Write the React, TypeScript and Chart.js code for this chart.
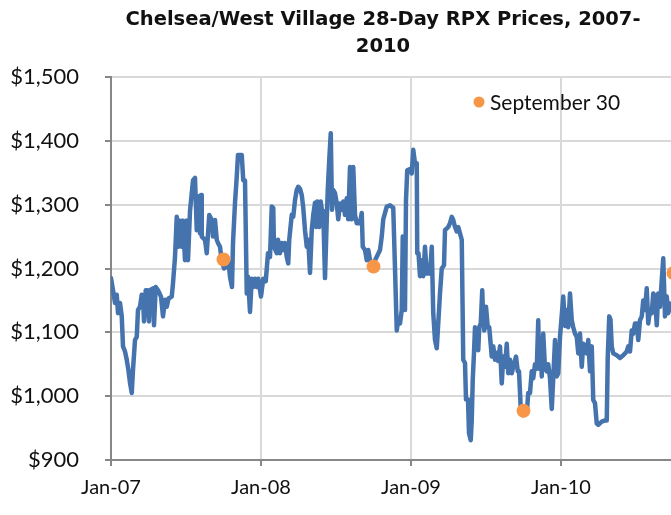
import { useEffect, useRef } from 'react';
import { Chart, registerables } from 'chart.js';

Chart.register(...registerables);

const chartTitle = ['Chelsea/West Village 28-Day RPX Prices, 2007-', '2010'];
const xTickMonths = [0, 12, 24, 36];
const xTickLabels = ['Jan-07', 'Jan-08', 'Jan-09', 'Jan-10'];
const yMin = 900;
const yMax = 1500;
const yStep = 100;
const xMin = 0;
const xMax = 44.8;

// [months since Jan-07, price in $]
const priceSeries: [number, number][] = [
  [0, 1185], [0.16, 1166], [0.32, 1146], [0.46, 1159], [0.56, 1130], [0.72, 1146], [0.86, 1125], [0.96, 1078],
  [1.12, 1070], [1.26, 1057], [1.4, 1040], [1.52, 1021], [1.66, 1005], [1.76, 1041], [1.92, 1088], [2.06, 1093],
  [2.16, 1135], [2.32, 1140], [2.46, 1159], [2.56, 1156], [2.64, 1117], [2.78, 1166], [2.92, 1166], [3.04, 1117],
  [3.12, 1166], [3.36, 1169], [3.44, 1111], [3.58, 1171], [3.76, 1166], [4.0, 1156], [4.16, 1125], [4.32, 1151],
  [4.46, 1140], [4.6, 1153], [4.86, 1156], [4.96, 1177], [5.12, 1218], [5.26, 1281], [5.38, 1234], [5.52, 1275],
  [5.66, 1234], [5.76, 1275], [5.92, 1213], [6.06, 1275], [6.16, 1213], [6.32, 1290], [6.46, 1318], [6.56, 1338],
  [6.72, 1342], [6.86, 1260], [6.96, 1313], [7.12, 1255], [7.2, 1315], [7.26, 1250], [7.52, 1245], [7.66, 1224],
  [7.86, 1284], [8.06, 1276], [8.16, 1250], [8.32, 1276], [8.46, 1245], [8.56, 1240], [8.72, 1234], [8.86, 1213],
  [9.04, 1200], [9.26, 1203], [9.4, 1210], [9.52, 1187], [9.68, 1171], [9.76, 1240], [9.92, 1303], [10.06, 1344],
  [10.16, 1378], [10.46, 1378], [10.58, 1338], [10.72, 1338], [10.86, 1161], [10.96, 1187], [11.12, 1132], [11.26, 1184],
  [11.38, 1171], [11.52, 1184], [11.66, 1171], [11.78, 1184], [12.0, 1156], [12.18, 1184], [12.38, 1180], [12.56, 1224],
  [12.72, 1218], [12.86, 1297], [12.98, 1295], [13.04, 1234], [13.26, 1224], [13.36, 1245], [13.52, 1224], [13.66, 1240],
  [13.78, 1229], [13.92, 1240], [14.06, 1218], [14.18, 1208], [14.26, 1245], [14.46, 1284], [14.58, 1281], [14.72, 1307],
  [14.86, 1323], [14.98, 1328], [15.12, 1325], [15.26, 1315], [15.38, 1295], [15.52, 1260], [15.66, 1234], [15.78, 1245],
  [15.92, 1193], [16.06, 1260], [16.18, 1284], [16.32, 1303], [16.4, 1265], [16.5, 1305], [16.66, 1265], [16.78, 1305],
  [16.9, 1287], [16.98, 1290], [17.12, 1185], [17.26, 1277], [17.34, 1323], [17.46, 1370], [17.58, 1412], [17.68, 1292],
  [17.78, 1323], [17.92, 1318], [18.06, 1302], [18.18, 1277], [18.32, 1302], [18.46, 1292], [18.58, 1305], [18.72, 1284],
  [18.86, 1310], [18.98, 1277], [19.12, 1359], [19.26, 1277], [19.38, 1359], [19.52, 1284], [19.66, 1271], [19.92, 1271],
  [20.06, 1287], [20.14, 1234], [20.32, 1229], [20.46, 1213], [20.58, 1229], [20.72, 1213], [20.94, 1205], [21.12, 1213],
  [21.3, 1220], [21.52, 1229], [21.66, 1250], [21.78, 1277], [22.06, 1297], [22.32, 1299], [22.58, 1295], [22.72, 1200],
  [22.86, 1103], [22.98, 1120], [23.12, 1114], [23.26, 1135], [23.34, 1250], [23.44, 1200], [23.52, 1135], [23.6, 1307],
  [23.7, 1354], [23.92, 1356], [24.06, 1349], [24.18, 1386], [24.32, 1365], [24.46, 1365], [24.5, 1224], [24.6, 1224],
  [24.72, 1188], [24.86, 1213], [24.98, 1188], [25.12, 1234], [25.26, 1192], [25.52, 1192], [25.66, 1234], [25.78, 1130],
  [25.92, 1088], [26.06, 1075], [26.18, 1114], [26.32, 1161], [26.46, 1200], [26.64, 1205], [26.72, 1260], [26.98, 1265],
  [27.12, 1271], [27.26, 1281], [27.38, 1276], [27.52, 1265], [27.66, 1258], [27.78, 1265], [27.92, 1255], [28.06, 1245],
  [28.18, 1057], [28.32, 1052], [28.4, 995], [28.56, 995], [28.64, 942], [28.78, 931], [28.86, 963], [28.94, 1026],
  [29.04, 1068], [29.12, 1108], [29.26, 1098], [29.38, 1072], [29.46, 1108], [29.58, 1114], [29.7, 1166], [29.78, 1119],
  [29.86, 1103], [30.0, 1140], [30.14, 1108], [30.26, 1108], [30.46, 1062], [30.58, 1078], [30.72, 1057], [30.86, 1068],
  [30.98, 1055], [31.12, 1078], [31.26, 1020], [31.38, 1062], [31.52, 1046], [31.66, 1082], [31.78, 1036], [31.92, 1057],
  [32.06, 1036], [32.18, 1046], [32.4, 1062], [32.54, 1039], [32.64, 1039], [32.8, 973], [32.98, 970], [33.26, 973],
  [33.38, 1005], [33.52, 1005], [33.66, 1039], [33.78, 1028], [33.92, 1050], [34.06, 1043], [34.18, 1119], [34.26, 1043],
  [34.38, 1082], [34.46, 1031], [34.58, 1098], [34.72, 1043], [34.86, 1039], [34.98, 1050], [35.12, 1028], [35.26, 980],
  [35.38, 1028], [35.52, 1088], [35.66, 1031], [35.78, 1036], [35.92, 1093], [36.18, 1156], [36.32, 1110], [36.46, 1135],
  [36.58, 1108], [36.72, 1161], [36.86, 1119], [36.98, 1108], [37.12, 1098], [37.26, 1093], [37.38, 1067], [37.52, 1098],
  [37.66, 1046], [37.78, 1082], [37.92, 1078], [38.06, 1067], [38.18, 1088], [38.32, 1039], [38.46, 1078], [38.58, 994],
  [38.72, 989], [38.86, 957], [38.98, 955], [39.26, 960], [39.52, 962], [39.66, 962], [39.74, 1062], [39.86, 1125],
  [39.96, 1120], [40.06, 1078], [40.18, 1067], [40.46, 1064], [40.72, 1060], [40.98, 1064], [41.26, 1070], [41.38, 1078],
  [41.52, 1070], [41.66, 1103], [41.78, 1098], [41.92, 1114], [42.06, 1114], [42.18, 1088], [42.32, 1119], [42.46, 1125],
  [42.58, 1150], [42.72, 1135], [42.86, 1169], [42.98, 1114], [43.12, 1135], [43.26, 1130], [43.38, 1161], [43.52, 1156],
  [43.66, 1111], [43.78, 1161], [43.92, 1140], [44.06, 1182], [44.18, 1216], [44.32, 1125], [44.46, 1156], [44.58, 1130],
  [44.72, 1145], [44.84, 1135],
];

const sep30Months = [9, 21, 33, 45];
const sep30Prices = [1214, 1203, 977, 1193];
const legendLabel = 'September 30';

const BLUE = '#4573ad';
const ORANGE = '#f79646';
const AXIS = '#878787';
const GRID = '#d9d9d9';
const TEXT = '#111111';
const TICK_FONT = 'Lato';

// Title drawn centred over the (original, uncropped) plot area
const plotTitle = {
  id: 'plotTitle',
  afterDraw(chart: any) {
    const { ctx, chartArea } = chart;
    const cx = chartArea.left + 272;
    ctx.save();
    ctx.font = 'bold 19.5px "DejaVu Sans"';
    ctx.fillStyle = TEXT;
    ctx.textAlign = 'center';
    ctx.textBaseline = 'middle';
    chartTitle.forEach((line, i) => ctx.fillText(line, cx, 20 + i * 27));
    ctx.restore();
  },
};

const insideLegend = {
  id: 'insideLegend',
  afterDraw(chart: any) {
    const { ctx, chartArea } = chart;
    const x = chartArea.left + 368;
    const y = chartArea.top + 25;
    ctx.save();
    ctx.fillStyle = ORANGE;
    ctx.beginPath();
    ctx.arc(x, y, 5.5, 0, Math.PI * 2);
    ctx.fill();
    ctx.font = `21px ${TICK_FONT}`;
    ctx.fillStyle = TEXT;
    ctx.textBaseline = 'middle';
    ctx.textAlign = 'left';
    ctx.fillText(legendLabel, x + 11, y + 1);
    ctx.restore();
  },
};

export default function App() {
  const canvasRef = useRef<HTMLCanvasElement | null>(null);

  useEffect(() => {
    document.body.style.margin = '0';
    const canvas = canvasRef.current;
    if (!canvas) return;

    const chart = new Chart(canvas, {
      type: 'line',
      data: {
        datasets: [
          {
            label: legendLabel,
            data: sep30Months.map((m, i) => ({ x: m, y: sep30Prices[i] })),
            showLine: false,
            pointRadius: 7,
            pointBackgroundColor: ORANGE,
            pointBorderWidth: 0,
            borderColor: ORANGE,
            backgroundColor: ORANGE,
            clip: false,
            order: 0,
          },
          {
            label: 'RPX',
            data: priceSeries.map(([m, v]) => ({ x: m, y: v })),
            borderColor: BLUE,
            borderWidth: 4.5,
            pointRadius: 0,
            tension: 0,
            fill: false,
            borderJoinStyle: 'round',
            borderCapStyle: 'round',
            order: 1,
          },
        ],
      },
      options: {
        responsive: false,
        animation: false,
        layout: { autoPadding: false, padding: { left: 0, right: 0, top: 77, bottom: 0 } },
        plugins: {
          legend: { display: false },
          tooltip: { enabled: false },
          title: { display: false },
        },
        scales: {
          x: {
            type: 'linear',
            min: xMin,
            max: xMax,
            afterBuildTicks: (scale: any) => {
              scale.ticks = xTickMonths.map((v) => ({ value: v }));
            },
            afterFit: (scale: any) => {
              scale.height = 55;
              scale.paddingLeft = 0;
              scale.paddingRight = 0;
            },
            ticks: {
              autoSkip: false,
              maxRotation: 0,
              padding: 10,
              color: TEXT,
              font: { family: TICK_FONT, size: 20 },
              callback: (v: any) => {
                const i = xTickMonths.indexOf(Number(v));
                return i >= 0 ? xTickLabels[i] : '';
              },
            },
            grid: {
              color: GRID,
              lineWidth: 2,
              drawTicks: true,
              tickLength: 6,
              tickColor: AXIS,
              tickWidth: 2,
            },
            border: { display: true, color: AXIS, width: 2 },
          },
          y: {
            type: 'linear',
            min: yMin,
            max: yMax,
            afterFit: (scale: any) => {
              scale.width = 111;
            },
            ticks: {
              stepSize: yStep,
              padding: 26,
              color: TEXT,
              font: { family: TICK_FONT, size: 22 },
              callback: (v: any) => '$' + Number(v).toLocaleString('en-US'),
            },
            grid: {
              color: GRID,
              lineWidth: 2,
              drawTicks: true,
              tickLength: 6,
              tickColor: AXIS,
              tickWidth: 2,
            },
            border: { display: true, color: AXIS, width: 2 },
          },
        },
      },
      plugins: [plotTitle, insideLegend],
    });

    return () => {
      chart.destroy();
    };
  }, []);

  return (
    <div style={{ width: 671, height: 515, background: '#fff' }}>
      <canvas ref={canvasRef} width={671} height={515} style={{ display: 'block' }} />
    </div>
  );
}
